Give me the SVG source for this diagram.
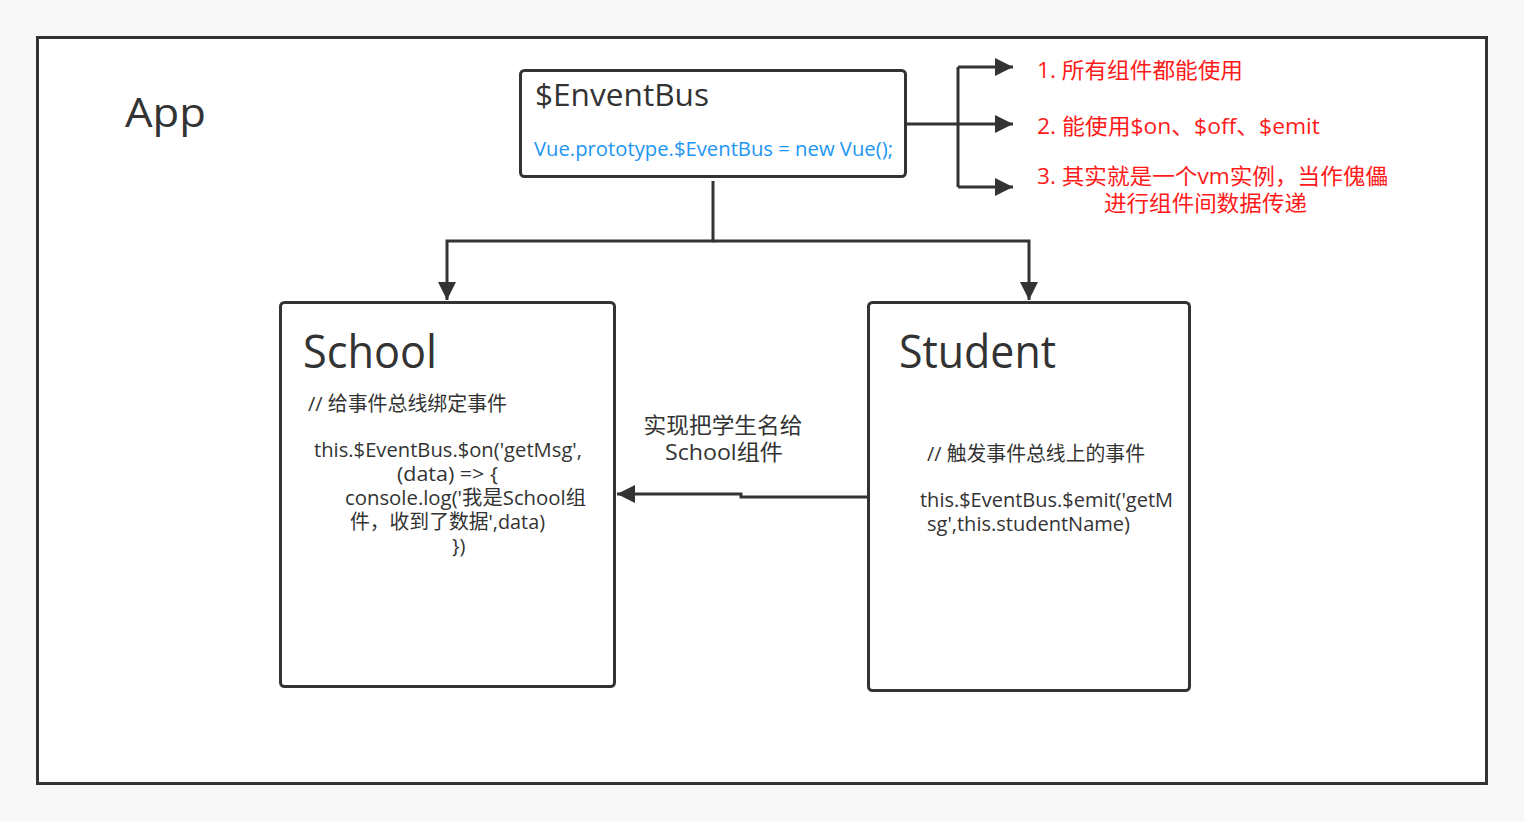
<svg xmlns="http://www.w3.org/2000/svg" width="1524" height="822" viewBox="0 0 1524 822">
<defs>
<style>
.box{fill:#fff;stroke:#333;stroke-width:3}
.ln{fill:none;stroke:#333;stroke-width:3}
text{font-family:"Open Sans","Noto Sans CJK SC",sans-serif;fill:#333}
.red{fill:#ff1a1a;font-size:22px}
.body{font-size:20px}
</style>
<marker id="ah" viewBox="0 0 10 10" refX="10" refY="5" markerWidth="9" markerHeight="6" markerUnits="strokeWidth" orient="auto">
<path d="M0,0 L10,5 L0,10 z" fill="#333"/>
</marker>
</defs>
<rect x="0" y="0" width="1524" height="822" fill="#f8f8f8"/>
<g id="app">
<rect x="37.5" y="37.5" width="1449" height="746" fill="#fff" stroke="#333" stroke-width="3"/>
<text x="125" y="127" font-size="40" textLength="81" lengthAdjust="spacingAndGlyphs">App</text>
</g>
<g id="connectors">
<path class="ln" d="M713,181 V241 H447 V300" marker-end="url(#ah)"/>
<path class="ln" d="M713,241 H1029 V300" marker-end="url(#ah)"/>
<path class="ln" d="M906,124 H958"/>
<path class="ln" d="M958,67 V187"/>
<path class="ln" d="M958,67 H1013" marker-end="url(#ah)"/>
<path class="ln" d="M958,124 H1013" marker-end="url(#ah)"/>
<path class="ln" d="M958,187 H1013" marker-end="url(#ah)"/>
<path class="ln" d="M868,497 H741 V494 H617" marker-end="url(#ah)"/>
<text x="723" y="433" font-size="22" text-anchor="middle" textLength="159" lengthAdjust="spacingAndGlyphs">实现把学生名给</text>
<text x="724" y="460" font-size="22" text-anchor="middle" textLength="118" lengthAdjust="spacingAndGlyphs">School组件</text>
</g>
<g id="eventbus">
<rect class="box" x="520.5" y="70.5" width="385" height="106" rx="4"/>
<text x="535" y="106" font-size="31" textLength="174" lengthAdjust="spacingAndGlyphs">$EnventBus</text>
<text x="534" y="156" font-size="20" style="fill:#2196f3" textLength="359" lengthAdjust="spacingAndGlyphs">Vue.prototype.$EventBus = new Vue();</text>
</g>
<g id="notes">
<text class="red" x="1037" y="78" textLength="206" lengthAdjust="spacingAndGlyphs">1. 所有组件都能使用</text>
<text class="red" x="1037" y="134" textLength="283" lengthAdjust="spacingAndGlyphs">2. 能使用$on、$off、$emit</text>
<text class="red" x="1037" y="184" textLength="351" lengthAdjust="spacingAndGlyphs">3. 其实就是一个vm实例，当作傀儡</text>
<text class="red" x="1104" y="211" textLength="203" lengthAdjust="spacingAndGlyphs">进行组件间数据传递</text>
</g>
<g id="school">
<rect class="box" x="280.5" y="302.5" width="334" height="384" rx="4"/>
<text x="303" y="368" font-size="46" textLength="134" lengthAdjust="spacingAndGlyphs">School</text>
<text class="body" x="308" y="411" textLength="199" lengthAdjust="spacingAndGlyphs">// 给事件总线绑定事件</text>
<text class="body" x="314" y="457" textLength="268" lengthAdjust="spacingAndGlyphs">this.$EventBus.$on('getMsg',</text>
<text class="body" x="397" y="481" textLength="101" lengthAdjust="spacingAndGlyphs">(data) =&gt; {</text>
<text class="body" x="345" y="505" textLength="241" lengthAdjust="spacingAndGlyphs">console.log('我是School组</text>
<text class="body" x="350" y="529" textLength="195" lengthAdjust="spacingAndGlyphs">件，收到了数据',data)</text>
<text class="body" x="452" y="553">})</text>
</g>
<g id="student">
<rect class="box" x="868.5" y="302.5" width="321" height="388" rx="4"/>
<text x="899" y="368" font-size="46" textLength="157" lengthAdjust="spacingAndGlyphs">Student</text>
<text class="body" x="927" y="461" textLength="218" lengthAdjust="spacingAndGlyphs">// 触发事件总线上的事件</text>
<text class="body" x="920" y="507" textLength="253" lengthAdjust="spacingAndGlyphs">this.$EventBus.$emit('getM</text>
<text class="body" x="927" y="531" textLength="203" lengthAdjust="spacingAndGlyphs">sg',this.studentName)</text>
</g>
</svg>
